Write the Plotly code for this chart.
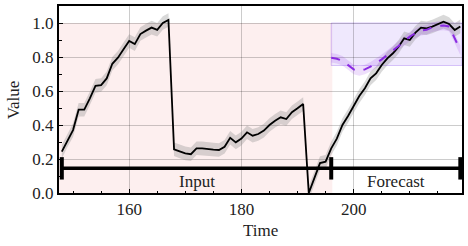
import plotly.graph_objects as go

# ---- data ----
time = list(range(148, 220))
value = [0.243, 0.31, 0.37, 0.49, 0.49, 0.557, 0.63, 0.635, 0.674, 0.76,
         0.796, 0.845, 0.894, 0.876, 0.935, 0.955, 0.973, 0.96, 1.0, 1.018,
         0.257, 0.245, 0.233, 0.228, 0.263, 0.263, 0.257, 0.255, 0.253, 0.272,
         0.325, 0.298, 0.32, 0.357, 0.337, 0.347, 0.367, 0.4, 0.425, 0.445,
         0.435, 0.475, 0.498, 0.523, 0.0, 0.09, 0.176, 0.184, 0.263, 0.32,
         0.4, 0.453, 0.508, 0.57, 0.616, 0.674, 0.704, 0.753, 0.792, 0.822,
         0.86, 0.91, 0.9, 0.943, 0.973, 0.969, 0.979, 0.992, 1.008, 0.994,
         0.959, 0.98]
value_band = 0.04

fc_time = list(range(196, 220))
forecast = [0.796, 0.79, 0.778, 0.753, 0.727, 0.718, 0.727, 0.743, 0.763, 0.786,
            0.812, 0.837, 0.865, 0.894, 0.92, 0.94, 0.955, 0.96, 0.975, 0.983,
            0.985, 0.98, 0.91, 0.84]
forecast_band = 0.028

input_start, split, forecast_end = 148, 196, 219
range_band = [0.75, 1.0]
bracket_y = 0.145
x_range = [147.5, 219.3]
y_range = [0, 1.1]

FONT = "Liberation Serif"
TXT = "#222"

fig = go.Figure()

# shaded regions
fig.add_shape(type="rect", xref="x", yref="y", x0=x_range[0], x1=split + 0.2,
              y0=0, y1=1.0, fillcolor="rgba(230,80,80,0.09)", line_width=0,
              layer="below")
fig.add_shape(type="rect", xref="x", yref="y", x0=split, x1=x_range[1],
              y0=range_band[0], y1=range_band[1],
              fillcolor="rgba(150,100,240,0.15)",
              line=dict(color="rgba(150,100,240,0.35)", width=1), layer="below")

# grey band around ground truth
up = [v + value_band for v in value]
lo = [v - value_band for v in value]
fig.add_trace(go.Scatter(x=time + time[::-1], y=up + lo[::-1], fill="toself",
                         fillcolor="rgba(128,128,128,0.3)", line=dict(width=0),
                         hoverinfo="skip", showlegend=False))
# purple band around forecast
fup = [v + forecast_band for v in forecast]
flo = [v - forecast_band for v in forecast]
fig.add_trace(go.Scatter(x=fc_time + fc_time[::-1], y=fup + flo[::-1], fill="toself",
                         fillcolor="rgba(138,43,226,0.15)", line=dict(width=0),
                         hoverinfo="skip", showlegend=False))

fig.add_trace(go.Scatter(x=time, y=value, mode="lines",
                         line=dict(color="black", width=1.8), showlegend=False))
fig.add_trace(go.Scatter(x=fc_time, y=forecast, mode="lines",
                         line=dict(color="#8a2be2", width=2, dash="dash"),
                         showlegend=False))

# bracket
bx = [input_start, split, forecast_end]
fig.add_trace(go.Scatter(x=bx, y=[bracket_y] * 3, mode="lines+markers",
                         line=dict(color="black", width=3.5),
                         marker=dict(symbol="line-ns", size=16,
                                     line=dict(color="black", width=4)),
                         cliponaxis=False, showlegend=False))

fig.add_annotation(x=(input_start + split) / 2, y=0.07, text="Input",
                   showarrow=False, font=dict(family=FONT, size=17, color=TXT))
fig.add_annotation(x=(split + forecast_end) / 2, y=0.07, text="Forecast",
                   showarrow=False, font=dict(family=FONT, size=17, color=TXT))

# axis titles
fig.add_annotation(xref="paper", yref="paper", x=0.5, y=-0.198, yanchor="middle",
                   text="Time", showarrow=False,
                   font=dict(family=FONT, size=17, color=TXT))
fig.add_annotation(xref="paper", yref="paper", x=-0.112, y=0.5, xanchor="center",
                   yanchor="middle", text="Value", textangle=-90, showarrow=False,
                   font=dict(family=FONT, size=17, color=TXT))

axis_common = dict(showline=True, linecolor="black", linewidth=2, mirror=True,
                   ticks="inside", ticklen=4, tickcolor="black",
                   showgrid=True, gridcolor="rgba(0,0,0,0.2)", gridwidth=1,
                   zeroline=False, automargin=False,
                   tickfont=dict(family=FONT, size=17, color=TXT))

fig.update_xaxes(range=x_range, tickvals=[160, 180, 200],
                 minor=dict(dtick=5, ticks="inside", ticklen=2.5, tickcolor="black",
                            showgrid=False, tick0=150),
                 **axis_common)
fig.update_yaxes(range=y_range, tickvals=[0, 0.2, 0.4, 0.6, 0.8, 1.0], tickformat=".1f",
                 minor=dict(dtick=0.1, ticks="inside", ticklen=2.5, tickcolor="black",
                            showgrid=False),
                 **axis_common)

fig.update_layout(width=468, height=246, margin=dict(l=59, r=6, t=6, b=53),
                  plot_bgcolor="white", paper_bgcolor="white",
                  font=dict(family=FONT, size=17, color=TXT))

fig.write_html("out.html", config={"displayModeBar": False},
               post_script="document.body.style.margin='0px';document.body.style.overflow='hidden';")
